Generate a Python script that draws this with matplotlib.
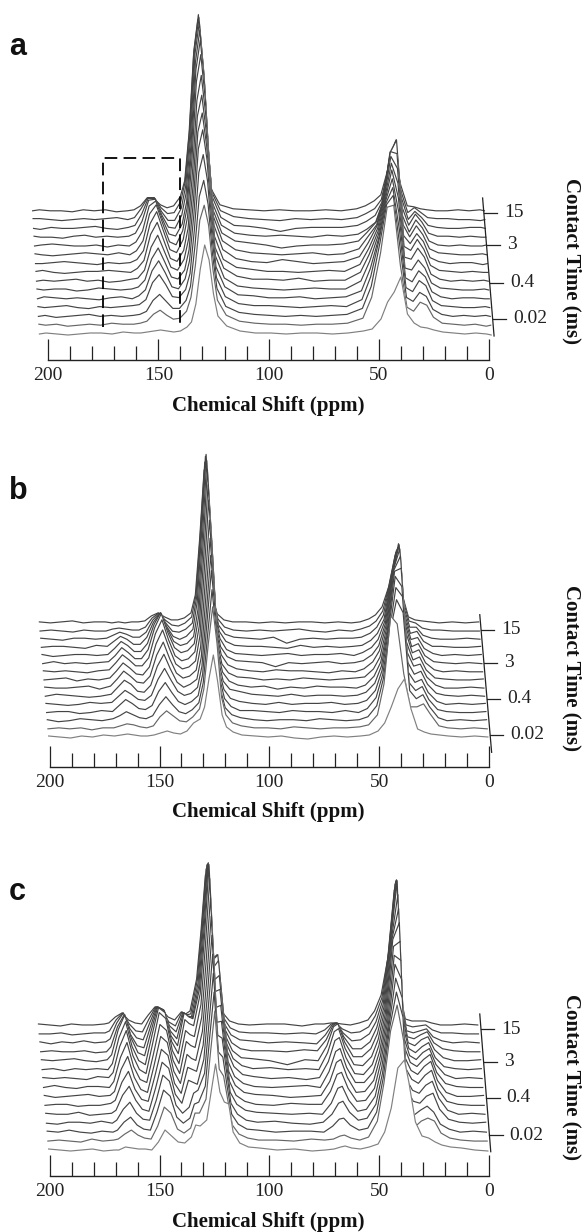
import numpy as np
import matplotlib
matplotlib.use("Agg")
import matplotlib.pyplot as plt

# ppm positions of the read points, one grid per panel
ppm_a = [203, 200, 195, 190, 185, 180, 175, 170, 165, 160,
         157, 154, 151, 148, 145, 142, 139, 136,
         134, 132, 130, 128, 126, 124, 122, 118,
         112, 105, 98, 91, 84, 77, 70, 63,
         56, 52, 48, 45, 42, 39, 36, 33, 30, 27, 24, 20,
         15, 10, 5, 0, -2]
ppm_b = [200, 195, 190, 185, 180, 175,
         170, 167, 164, 161, 158, 155, 152,
         149, 146, 143, 140, 137, 134, 131,
         129, 127, 125, 123, 121, 119, 116, 112,
         106, 100, 94, 88, 82, 76, 70, 64, 58,
         54, 50, 47, 44, 41, 38, 35, 32, 29, 26, 22,
         18, 12, 6, 0]
ppm_c = [200, 195, 190, 185, 180, 175, 170,
         168, 165, 162, 159, 156, 153,
         150, 147, 144, 141, 138, 135, 133, 131, 128, 126, 124, 122, 120, 118, 116, 113, 109,
         104, 96, 88, 80, 74, 70, 67, 65, 62, 58,
         54, 50, 47, 44, 41, 38, 36, 33, 30, 27, 24, 21, 17,
         12, 6, 0]

# intensities, front trace first
traces_a = [
    [0, 1, 0, -1, 0, 1, 1, 0, 2, 1, 1, 2, 3, 4, 3, 2, 3, 7, 12, 30, 65, 89, 74, 40, 18, 8, 3, 1, 1, 0, 1, 1, 0, 1, 3, 5, 15, 32, 42, 57, 20, 11, 7, 6, 4, 2, 1, 0, 1, 0, -1],
    [1, 0, 1, -1, 0, 1, 0, 2, 1, 1, 2, 4, 11, 15, 10, 6, 7, 14, 28, 60, 105, 120, 100, 55, 25, 10, 4, 2, 1, 1, 0, 1, 1, 2, 7, 28, 72, 118, 120, 60, 18, 14, 23, 20, 8, 2, 1, 0, 1, -1, 0],
    [0, 1, -1, 0, 1, 2, 0, 1, 0, 1, 2, 5, 16, 22, 15, 8, 8, 16, 30, 70, 120, 136, 112, 62, 28, 10, 4, 2, 1, 0, 1, 0, 1, 2, 8, 30, 74, 112, 121, 70, 19, 15, 24, 20, 7, 2, 0, 1, 0, 1, 0],
    [1, 0, 1, 2, 0, -1, 1, 0, 1, 2, 3, 8, 25, 33, 23, 11, 10, 18, 34, 78, 135, 153, 126, 70, 30, 11, 4, 2, 2, 1, 0, 1, 2, 1, 8, 31, 70, 105, 120, 78, 20, 16, 27, 22, 7, 2, 1, 0, 0, 1, 0],
    [0, 2, 1, 0, 1, 0, -1, 1, 2, 0, 3, 9, 28, 38, 26, 12, 10, 20, 38, 85, 150, 169, 138, 76, 32, 12, 4, 3, 1, 1, 2, 0, 1, 2, 8, 30, 62, 98, 120, 86, 21, 17, 28, 22, 7, 2, 0, 1, 1, 0, 0],
    [1, 0, 1, 1, -1, 0, 2, 1, 0, 1, 3, 10, 31, 42, 28, 13, 11, 20, 40, 90, 158, 177, 144, 80, 34, 12, 4, 2, 1, 0, 1, 2, 1, 1, 9, 29, 56, 90, 120, 92, 22, 20, 30, 22, 7, 2, 1, 0, 0, 1, 0],
    [0, 1, 0, 1, 2, 0, 1, -1, 0, 2, 3, 11, 34, 46, 30, 14, 11, 22, 42, 95, 165, 186, 150, 84, 34, 13, 5, 2, 2, 1, 3, 0, 1, 1, 9, 27, 50, 82, 118, 98, 24, 22, 33, 24, 7, 2, 0, 1, 0, 1, 0],
    [1, 2, 0, -1, 0, 1, 1, 2, 1, 0, 4, 12, 38, 50, 32, 14, 11, 22, 44, 100, 172, 197, 158, 88, 36, 13, 5, 3, 1, 1, 0, 1, 2, 1, 8, 24, 44, 74, 116, 104, 26, 22, 33, 23, 7, 2, 1, 0, 1, 0, 0],
    [0, 0, 1, 2, 1, 0, -1, 1, 0, 1, 4, 13, 40, 52, 33, 14, 11, 24, 47, 105, 182, 209, 165, 92, 38, 14, 5, 2, 1, 4, 2, 0, 1, 2, 7, 21, 38, 64, 112, 110, 28, 20, 30, 22, 6, 2, 0, 1, 1, -1, 0],
    [1, 0, -1, 0, 1, 2, 1, 0, 2, 0, 4, 14, 41, 50, 31, 13, 10, 24, 47, 105, 185, 215, 168, 94, 38, 14, 5, 2, 1, 0, 1, 2, 0, 1, 6, 18, 30, 54, 102, 115, 30, 18, 29, 20, 6, 2, 1, 0, 0, 1, 0],
    [0, 1, 2, 1, 0, 0, 1, -1, 1, 0, 4, 15, 40, 45, 27, 12, 10, 22, 44, 102, 184, 216, 168, 92, 36, 13, 5, 3, 1, -2, 0, 1, 1, 2, 5, 14, 24, 42, 88, 106, 30, 14, 26, 18, 5, 1, 0, 1, 0, 0, 1],
    [1, 0, 0, -1, 1, 2, 0, 1, 0, 1, 4, 16, 37, 38, 22, 10, 9, 22, 44, 100, 183, 215, 165, 90, 34, 12, 4, 2, 1, 2, 1, 0, 2, 1, 3, 8, 15, 34, 76, 95, 30, 12, 23, 15, 4, 1, 1, 0, 1, 0, 0],
    [0, -1, 1, 0, 0, 1, 2, 0, -1, 1, 3, 14, 30, 30, 17, 8, 8, 20, 42, 96, 178, 211, 160, 86, 32, 11, 3, 2, 0, -3, 0, 1, 1, 1, 3, 7, 13, 26, 62, 83, 30, 9, 17, 11, 3, 1, 0, 0, 1, 1, 0],
    [1, 1, 0, -1, 0, 1, 0, 1, 2, 0, 2, 11, 22, 22, 12, 6, 7, 18, 38, 90, 170, 205, 152, 80, 28, 9, 3, 1, 0, -1, 1, 0, 1, 0, 2, 6, 11, 20, 50, 71, 28, 7, 12, 7, 2, 1, 1, 0, 0, -1, 0],
    [0, 1, 0, 0, -1, 1, 0, 1, -1, 0, 1, 5, 13, 12, 6, 3, 5, 14, 30, 78, 155, 191, 136, 70, 22, 6, 2, 1, 0, 1, 0, 0, 1, 0, 2, 5, 10, 16, 40, 58, 26, 5, 4, 2, 1, 0, 0, 1, 0, 1, 0],
]
traces_b = [
    [1, 0, -1, 1, 0, 2, 1, 2, 3, 2, 1, 1, 2, 4, 6, 4, 3, 6, 14, 18, 30, 58, 82, 55, 22, 10, 5, 2, 1, 0, 1, -1, -2, 0, 1, 0, 1, 2, 6, 14, 30, 48, 58, 28, 8, 5, 3, 2, 1, 0, 1, 0],
    [0, 1, 0, 1, -1, 1, 1, 3, 5, 4, 2, 1, 3, 12, 18, 13, 8, 7, 12, 20, 40, 85, 122, 85, 32, 14, 6, 3, 1, 1, 0, 2, 1, 0, 1, 1, 2, 4, 14, 45, 113, 105, 55, 22, 22, 25, 15, 3, 1, 0, 1, 0],
    [1, -1, 0, 2, 1, 0, 2, 5, 9, 6, 3, 2, 5, 16, 24, 16, 9, 7, 11, 18, 38, 86, 131, 88, 30, 13, 6, 3, 1, 0, 1, 1, 0, 2, 1, 0, 1, 4, 15, 42, 88, 121, 108, 30, 22, 26, 14, 3, 0, 1, 0, 1],
    [0, 1, 1, -1, 0, 2, 1, 7, 13, 9, 4, 3, 7, 21, 30, 20, 11, 8, 11, 17, 38, 90, 142, 95, 32, 14, 6, 2, 2, 1, 0, 2, 1, 1, 0, 2, 0, 4, 15, 38, 80, 125, 116, 30, 22, 26, 13, 3, 1, 0, 0, 1],
    [1, 0, -1, 0, 2, 1, 2, 8, 14, 10, 5, 4, 9, 25, 36, 24, 13, 9, 11, 17, 38, 92, 149, 98, 32, 15, 6, 3, 1, 0, 2, 0, 1, 1, 2, 0, 1, 4, 14, 34, 74, 128, 118, 32, 22, 25, 12, 3, 0, 1, 0, 1],
    [0, 2, 1, 0, -1, 0, 2, 9, 16, 12, 5, 4, 11, 30, 42, 27, 14, 9, 12, 17, 39, 97, 158, 103, 34, 15, 7, 5, 2, 1, 0, 2, 0, 1, 1, 0, 1, 4, 13, 30, 66, 125, 128, 34, 22, 25, 12, 3, 1, 0, 1, 0],
    [1, 0, 0, 1, 2, -1, 2, 9, 17, 12, 6, 5, 12, 33, 46, 29, 15, 10, 12, 18, 41, 103, 168, 108, 35, 16, 7, 3, 1, 2, -1, 1, 0, 2, 1, 1, 0, 3, 12, 26, 58, 118, 132, 36, 22, 24, 11, 3, 0, 0, 1, 0],
    [0, 1, 2, -1, 1, 0, 2, 9, 17, 12, 6, 5, 13, 36, 50, 32, 16, 11, 13, 19, 44, 110, 180, 115, 37, 16, 7, 3, 2, 0, 1, 0, 2, 1, 0, 1, 2, 3, 11, 23, 52, 110, 131, 38, 20, 23, 10, 2, 1, 0, 0, 1],
    [1, 0, 1, 0, -1, 1, 2, 9, 17, 12, 6, 6, 14, 38, 52, 32, 16, 11, 13, 20, 46, 115, 187, 118, 38, 17, 7, 3, 1, 0, 2, 1, 1, 0, -1, 1, 0, 3, 10, 21, 46, 98, 127, 40, 19, 22, 9, 2, 0, 1, 0, 0],
    [0, 2, 0, 1, 0, 1, 2, 8, 16, 11, 5, 5, 14, 36, 50, 31, 16, 11, 13, 20, 47, 118, 194, 122, 38, 17, 7, 3, 2, 1, -3, 1, 0, 1, 2, 0, 1, 3, 9, 18, 40, 88, 120, 40, 17, 20, 8, 2, 1, 0, 1, 0],
    [1, -1, 0, 1, 1, 0, 1, 7, 14, 10, 4, 4, 12, 31, 43, 27, 14, 10, 12, 19, 46, 118, 195, 122, 38, 17, 6, 2, 1, 0, 1, 2, 0, 1, 1, 2, 0, 3, 8, 16, 34, 76, 108, 38, 16, 18, 7, 2, 0, 1, 0, 1],
    [0, 1, 1, 0, -1, 2, 1, 6, 11, 8, 3, 3, 10, 25, 34, 21, 11, 8, 11, 18, 46, 116, 193, 120, 37, 16, 6, 2, 1, 1, 0, -1, 2, 0, 1, 0, 1, 2, 7, 14, 28, 66, 98, 36, 14, 16, 6, 1, 1, 0, 0, 1],
    [1, 0, -1, 1, 1, 0, 1, 4, 7, 5, 2, 2, 7, 19, 26, 16, 8, 7, 10, 16, 42, 108, 183, 114, 34, 14, 5, 2, 1, 0, 2, -4, 0, 1, 0, 1, 1, 2, 6, 12, 24, 56, 89, 35, 12, 12, 4, 1, 0, 0, 1, 0],
    [0, 1, 0, -1, 1, 0, 0, 2, 3, 2, 1, 1, 4, 13, 18, 11, 6, 5, 8, 14, 36, 98, 169, 106, 30, 12, 4, 1, 0, 1, 0, 1, 2, 0, -1, 1, 0, 2, 5, 10, 20, 46, 79, 33, 10, 8, 3, 1, 1, 0, 0, 0],
    [1, 0, 1, 2, 0, 1, 1, 0, 1, 0, 1, 1, 2, 7, 10, 6, 3, 3, 5, 10, 28, 85, 153, 92, 24, 9, 3, 1, 1, 0, 1, 0, 1, 1, 0, 1, 0, 1, 4, 8, 16, 36, 68, 30, 6, 3, 2, 1, 0, 1, 0, 1],
]
traces_c = [
    [1, 0, -1, 0, 1, -1, 0, 0, 3, 2, 1, 1, 0, 8, 20, 14, 8, 7, 13, 25, 24, 30, 58, 86, 58, 48, 46, 18, 7, 3, 2, 0, 1, -1, 0, 1, 3, 4, 2, 1, 3, 6, 18, 42, 82, 90, 68, 28, 14, 12, 8, 5, 3, 2, 0, -1],
    [0, 1, 0, -1, 2, 0, 1, 2, 7, 11, 6, 3, 2, 15, 34, 28, 12, 8, 13, 28, 28, 42, 88, 130, 72, 65, 40, 16, 7, 3, 1, 1, 0, 2, 1, 2, 5, 6, 3, 1, 4, 20, 58, 110, 136, 100, 30, 14, 20, 23, 20, 8, 3, 1, 0, 0],
    [1, 0, 2, 0, -1, 1, 0, 2, 10, 15, 7, 3, 2, 20, 42, 36, 15, 9, 14, 28, 30, 46, 95, 140, 80, 75, 45, 18, 8, 3, 2, 0, 1, 1, 0, 6, 13, 14, 7, 2, 4, 20, 54, 105, 140, 115, 32, 17, 22, 26, 20, 8, 3, 0, 1, 0],
    [0, -1, 1, 1, 0, 2, 0, 3, 14, 21, 10, 4, 3, 23, 48, 42, 18, 10, 16, 30, 33, 50, 100, 150, 88, 85, 52, 20, 9, 3, 1, 2, 0, -1, 1, 9, 20, 22, 11, 3, 5, 19, 50, 98, 145, 125, 34, 22, 20, 27, 30, 14, 4, 1, 0, 1],
    [1, 0, 0, 2, -1, 0, 1, 4, 19, 28, 14, 5, 3, 26, 52, 46, 20, 11, 34, 32, 30, 55, 106, 160, 92, 93, 56, 22, 10, 4, 2, 1, 0, 1, 0, 11, 26, 28, 14, 3, 5, 18, 47, 90, 150, 135, 36, 24, 21, 29, 33, 16, 4, 0, 1, 0],
    [0, 1, 1, -1, 0, 0, 2, 5, 23, 34, 16, 6, 4, 29, 56, 50, 22, 12, 38, 36, 34, 60, 112, 170, 98, 100, 60, 24, 10, 4, 1, 0, 2, 1, 1, 14, 31, 33, 17, 4, 5, 17, 44, 84, 150, 145, 38, 26, 22, 30, 35, 16, 4, 1, 0, 0],
    [1, -1, 0, 1, 2, 0, 1, 5, 27, 40, 19, 7, 4, 31, 60, 54, 25, 13, 42, 38, 36, 65, 118, 180, 105, 107, 64, 25, 11, 4, 2, 1, -1, 0, 1, 15, 34, 37, 19, 4, 5, 16, 40, 78, 150, 155, 40, 26, 22, 30, 35, 16, 4, 0, 0, 1],
    [0, 2, 0, -1, 1, 1, 0, 6, 30, 45, 21, 8, 5, 33, 63, 57, 27, 14, 46, 42, 40, 70, 125, 190, 108, 112, 67, 26, 11, 4, 1, 0, 1, 2, 0, 16, 36, 39, 20, 5, 5, 15, 36, 72, 148, 165, 42, 25, 21, 28, 33, 15, 4, 1, 0, 0],
    [1, 0, 1, 0, -1, 2, 1, 6, 32, 48, 23, 9, 5, 35, 66, 60, 28, 15, 48, 44, 42, 74, 132, 200, 112, 118, 71, 27, 12, 4, 2, 0, 1, -1, 1, 17, 38, 41, 21, 5, 4, 14, 33, 66, 140, 170, 44, 23, 19, 26, 30, 14, 4, 0, 1, 0],
    [0, 1, -1, 1, 0, 1, 0, 6, 32, 48, 23, 9, 5, 34, 62, 57, 28, 16, 50, 46, 44, 76, 135, 205, 110, 115, 70, 26, 11, 4, 1, 2, 0, 1, 0, 17, 38, 41, 21, 5, 4, 13, 30, 60, 130, 175, 46, 21, 17, 23, 27, 12, 3, 1, 0, 1],
    [1, 0, 1, 2, 0, -1, 1, 6, 31, 46, 22, 8, 5, 30, 54, 50, 25, 15, 48, 44, 42, 72, 130, 198, 102, 106, 64, 24, 10, 3, 2, 0, -4, 1, 0, 15, 34, 37, 19, 4, 4, 12, 27, 54, 120, 180, 48, 18, 15, 21, 24, 11, 3, 0, 0, 1],
    [0, 1, 0, 0, 1, -1, 0, 5, 25, 37, 17, 6, 4, 25, 45, 42, 21, 13, 39, 35, 33, 66, 124, 188, 92, 95, 57, 22, 9, 3, 1, 1, 0, 2, 1, 12, 26, 29, 15, 3, 3, 10, 24, 48, 108, 172, 46, 15, 13, 17, 20, 9, 3, 1, 0, 0],
    [1, -1, 1, 0, 2, 0, 1, 4, 20, 30, 14, 5, 3, 20, 36, 33, 17, 11, 30, 27, 26, 60, 116, 178, 82, 83, 50, 19, 8, 3, 2, 0, 1, 0, -1, 8, 18, 20, 10, 2, 3, 9, 21, 42, 95, 162, 44, 12, 10, 12, 14, 6, 2, 0, 1, 0],
    [0, 0, 1, -1, 0, 1, 1, 3, 14, 21, 10, 3, 2, 15, 27, 24, 12, 8, 22, 19, 20, 54, 106, 165, 68, 70, 42, 16, 6, 2, 1, 1, 0, 1, 0, 4, 10, 11, 5, 1, 2, 7, 18, 36, 80, 150, 42, 9, 7, 8, 9, 4, 1, 1, 0, 0],
    [1, 0, -1, 1, 0, 0, 1, 2, 8, 12, 5, 2, 1, 10, 18, 16, 8, 5, 13, 11, 14, 46, 94, 150, 56, 55, 32, 12, 4, 1, 0, 1, 1, -1, 1, 1, 2, 2, 1, 0, 2, 5, 14, 30, 66, 135, 38, 6, 4, 4, 4, 2, 0, 0, 1, 0],
]

ruler_major = [0, 50, 100, 150, 200]
ruler_minor = [10, 20, 30, 40, 60, 70, 80, 90, 110, 120, 130, 140, 160, 170, 180, 190]
time_labels = ["15", "3", "0.4", "0.02"]
time_y_a = [147, 115, 77, 41]
time_y_b = [137, 104, 68, 32]
time_y_c = [147, 114, 78, 41]

W, H = 582, 1232
plt.rcParams['font.family'] = ['Liberation Serif', 'DejaVu Serif']
fig = plt.figure(figsize=(W / 100, H / 100), dpi=100)


def panel(letter, letter_y, left, bottom, ppm, traces, base, dy, offset, skew, time_y, slant, label_y):
    ax = fig.add_axes([left / W, 1 - bottom / H, (489 - left) / W, 350 / H])
    ax.set_xlim(200, 0)
    ax.set_ylim(0, 350)
    ax.patch.set_visible(False)
    for s in ['left', 'right', 'top']:
        ax.spines[s].set_visible(False)
    ax.spines['bottom'].set_linewidth(1.0)
    ax.spines['bottom'].set_color('#222222')
    ax.set_yticks([])
    ax.set_xticks(ruler_major)
    ax.set_xticks(ruler_minor, minor=True)
    ax.tick_params(axis='x', which='major', direction='in', length=15, width=0.9,
                   color='#222222', labelsize=14, pad=5, labelcolor='#222222')
    ax.tick_params(axis='x', which='minor', direction='in', length=10, width=0.9, color='#222222')

    x = np.array(ppm, dtype=float)
    n = len(traces)
    # draw back to front, white under each trace hides what is behind it
    for r in range(n - 1, -1, -1):
        y = base + r * dy + np.array(traces[r], dtype=float)
        xs = x + offset + r * skew
        ax.fill_between(xs, y, base + r * dy - 3, color='white', lw=0, clip_on=False, zorder=2 + (n - r) * 2)
        col = '#808080' if r == 0 else ('#666666' if r == 1 else '#444444')
        ax.plot(xs, y, color=col, lw=0.85, clip_on=False, zorder=3 + (n - r) * 2)

    # slanted contact time axis
    sx, sy = slant
    ax.plot(sx, sy, color='#222222', lw=0.9, clip_on=False, zorder=60)
    for lab, ty in zip(time_labels, time_y):
        tx = np.interp(ty, sy[::-1], sx[::-1])
        ax.plot([tx, tx - 6.0], [ty, ty], color='#222222', lw=0.9, clip_on=False, zorder=60)
        ax.annotate(lab, (tx - 6.0, ty), xytext=(5, 0), textcoords='offset points',
                    ha='left', va='center', fontsize=14, color='#222222', annotation_clip=False)

    fig.text(268 / W, 1 - label_y / H, 'Chemical Shift (ppm)', ha='center', va='center',
             fontsize=15, fontweight='bold', color='#111111')
    fig.text(572 / W, 1 - (label_y - 144) / H, 'Contact Time (ms)', rotation=270, ha='center', va='center',
             fontsize=15, fontweight='bold', color='#111111')
    fig.text(9 / W, 1 - letter_y / H, letter, ha='left', va='baseline',
             fontsize=22, fontweight='bold', family='Liberation Sans', color='#111111')
    return ax


ax_a = panel('a', 55, 48.2, 360, ppm_a, traces_a, 26, 8.8, 1.0, 0.22, time_y_a, ([2.9, -2.3], [162, 24]), 405.5)
panel('b', 499, 49.7, 766.7, ppm_b, traces_b, 29.7, 8.15, 0.5, 0.3, time_y_b, ([4.2, -1.2], [152, 14.4]), 812)
panel('c', 900, 49.7, 1176, ppm_c, traces_c, 26, 8.93, 0.5, 0.33, time_y_c, ([4.2, -0.8], [162, 24.3]), 1221.5)

# dashed box on panel a
ax_a.plot([175, 175, 140, 140], [33, 202, 202, 33], color='black', lw=1.3, dashes=(7, 3.5),
          clip_on=False, zorder=70)

fig.savefig('out.png', dpi=100)
